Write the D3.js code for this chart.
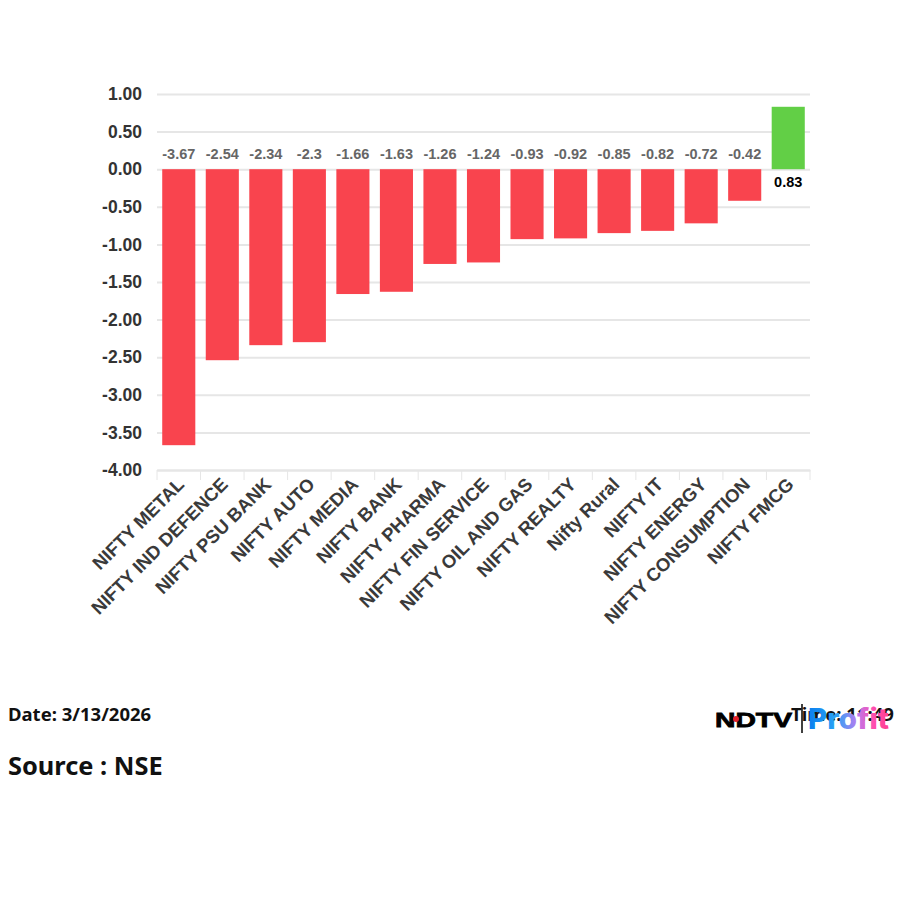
<!DOCTYPE html>
<html>
<head>
<meta charset="utf-8">
<style>
  html, body { margin: 0; padding: 0; background: #fff; }
  svg { display: block; }
</style>
<script src="https://cdn.jsdelivr.net/npm/d3@7"></script>
</head>
<body>
<script>
// Chart data
var categories = ["NIFTY METAL", "NIFTY IND DEFENCE", "NIFTY PSU BANK", "NIFTY AUTO", "NIFTY MEDIA",
  "NIFTY BANK", "NIFTY PHARMA", "NIFTY FIN SERVICE", "NIFTY OIL AND GAS", "NIFTY REALTY",
  "Nifty Rural", "NIFTY IT", "NIFTY ENERGY", "NIFTY CONSUMPTION", "NIFTY FMCG"];
var values = [-3.67, -2.54, -2.34, -2.3, -1.66, -1.63, -1.26, -1.24, -0.93, -0.92, -0.85, -0.82, -0.72, -0.42, 0.83];
var yTicks = [1, 0.5, 0, -0.5, -1, -1.5, -2, -2.5, -3, -3.5, -4];

var svgWidth = 900;
var svgHeight = 900;

var svg = d3.select("body")
  .append("svg")
  .attr("width", svgWidth)
  .attr("height", svgHeight);

var x = d3.scaleBand()
  .domain(categories)
  .range([157, 810])
  .paddingInner(0.24)
  .paddingOuter(0.12);

var y = d3.scaleLinear()
  .domain([-4, 1])
  .range([470, 94]);

// gridlines and left tick labels
var yAxis = d3.axisLeft(y)
  .tickValues(yTicks)
  .tickSize(-653)
  .tickPadding(15)
  .tickFormat(d3.format(".2f"));

var yGroup = svg.append("g")
  .attr("transform", "translate(157,0)")
  .call(yAxis);

yGroup.select(".domain").remove();
yGroup.selectAll("line")
  .attr("stroke", "#e6e6e6")
  .attr("stroke-width", 2);
yGroup.selectAll("text")
  .attr("font-family", "Liberation Sans, Arial, sans-serif")
  .attr("font-size", 17.5)
  .attr("font-weight", "bold")
  .attr("fill", "#333333")
  .text(function(d) { return d3.format(".2f")(d).replace("\u2212", "-"); });

// bars
svg.selectAll("rect.bar")
  .data(values)
  .enter()
  .append("rect")
  .attr("class", "bar")
  .attr("x", function(d, i) { return x(categories[i]); })
  .attr("y", function(d) { return y(Math.max(d, 0)); })
  .attr("width", x.bandwidth())
  .attr("height", function(d) { return Math.abs(y(d) - y(0)); })
  .attr("fill", function(d) { return d < 0 ? "#f9444e" : "#62cf46"; });

// value labels: negatives sit above the zero line, the positive one below it
svg.selectAll("text.value")
  .data(values)
  .enter()
  .append("text")
  .attr("class", "value")
  .attr("x", function(d, i) { return x(categories[i]) + x.bandwidth() / 2; })
  .attr("y", function(d) { return d < 0 ? y(0) - 10 : y(0) + 18; })
  .attr("text-anchor", "middle")
  .attr("font-family", "Liberation Sans, Arial, sans-serif")
  .attr("font-size", 14.5)
  .attr("font-weight", "bold")
  .attr("fill", function(d) { return d < 0 ? "#666666" : "#000000"; })
  .text(function(d) { return d; });

// bottom axis with rotated labels
var xAxis = d3.axisBottom(x)
  .tickSizeInner(10)
  .tickSizeOuter(0);

var xGroup = svg.append("g")
  .attr("transform", "translate(0,470)")
  .call(xAxis);

xGroup.select(".domain")
  .attr("stroke", "#e6e6e6")
  .attr("stroke-width", 2);

// ticks sit on the band edges, not the centres
xGroup.selectAll(".tick line").remove();
svg.selectAll("line.edge")
  .data(categories)
  .enter()
  .append("line")
  .attr("class", "edge")
  .attr("x1", function(d) { return x(d) - x.step() * 0.12; })
  .attr("x2", function(d) { return x(d) - x.step() * 0.12; })
  .attr("y1", 470)
  .attr("y2", 480)
  .attr("stroke", "#e6e6e6");
svg.append("line")
  .attr("x1", 810).attr("x2", 810)
  .attr("y1", 470).attr("y2", 480)
  .attr("stroke", "#e6e6e6");

xGroup.selectAll("text")
  .attr("font-family", "Liberation Sans, Arial, sans-serif")
  .attr("font-size", 18.5)
  .attr("font-weight", "bold")
  .attr("fill", "#3a3a3a")
  .attr("text-anchor", "end")
  .attr("transform", "translate(2,11) rotate(-45)")
  .attr("x", 0)
  .attr("y", 0)
  .attr("dy", "0.35em");

// footer
svg.append("text")
  .attr("x", 8).attr("y", 721)
  .attr("font-family", "Noto Sans, sans-serif")
  .attr("font-size", 18.5)
  .attr("font-weight", "bold")
  .attr("fill", "#111111")
  .text("Date: 3/13/2026");

svg.append("text")
  .attr("x", 8).attr("y", 775)
  .attr("font-family", "Noto Sans, sans-serif")
  .attr("font-size", 25.4)
  .attr("font-weight", "bold")
  .attr("fill", "#111111")
  .text("Source : NSE");

svg.append("text")
  .attr("x", 791).attr("y", 721)
  .attr("font-family", "Noto Sans, sans-serif")
  .attr("font-size", 18.5)
  .attr("font-weight", "bold")
  .attr("fill", "#111111")
  .text("Time: 11:49");

// logo on top of the time text
var grad = svg.append("defs").append("linearGradient")
  .attr("id", "profitGrad")
  .attr("gradientUnits", "userSpaceOnUse")
  .attr("x1", 808).attr("x2", 889).attr("y1", 0).attr("y2", 0);
grad.append("stop").attr("offset", "0").attr("stop-color", "#0b7fee");
grad.append("stop").attr("offset", "0.35").attr("stop-color", "#2aa3f5");
grad.append("stop").attr("offset", "0.6").attr("stop-color", "#b57bf0");
grad.append("stop").attr("offset", "0.8").attr("stop-color", "#ff4fb0");
grad.append("stop").attr("offset", "1").attr("stop-color", "#ff3f90");

svg.append("text")
  .attr("x", 715).attr("y", 726.5)
  .attr("font-family", "Liberation Sans, Arial, sans-serif")
  .attr("font-size", 21)
  .attr("font-weight", "bold")
  .attr("textLength", 77)
  .attr("lengthAdjust", "spacingAndGlyphs")
  .attr("fill", "#000000")
  .attr("stroke", "#000000")
  .attr("stroke-width", 0.8)
  .text("NDTV");

svg.append("circle")
  .attr("cx", 736).attr("cy", 719).attr("r", 3)
  .attr("fill", "#e0202a");

svg.append("line")
  .attr("x1", 802).attr("x2", 802)
  .attr("y1", 704).attr("y2", 733)
  .attr("stroke", "#000000")
  .attr("stroke-width", 1.5);

svg.append("text")
  .attr("x", 808).attr("y", 729)
  .attr("font-family", "Inter, Roboto, sans-serif")
  .attr("font-size", 28)
  .attr("font-weight", 800)
  .attr("textLength", 81)
  .attr("lengthAdjust", "spacingAndGlyphs")
  .attr("fill", "url(#profitGrad)")
  .text("Profit");
</script>
</body>
</html>
